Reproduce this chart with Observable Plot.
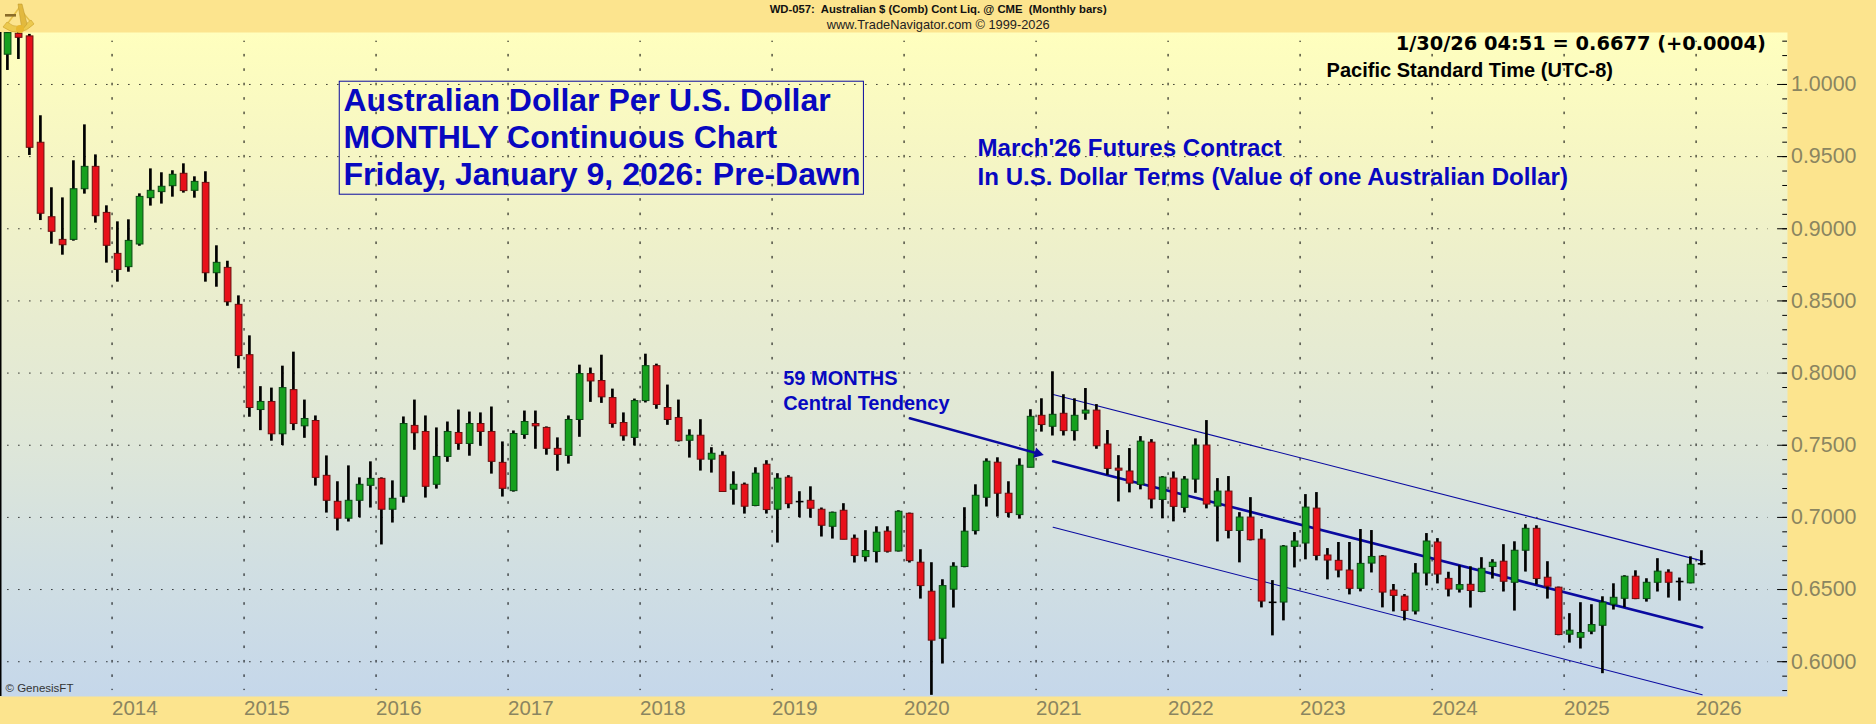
<!DOCTYPE html>
<html>
<head>
<meta charset="utf-8">
<script src="https://cdn.jsdelivr.net/npm/d3@7"></script>
<script src="https://cdn.jsdelivr.net/npm/@observablehq/plot@0.6"></script>
<style>html,body{margin:0;padding:0;background:#fce48e}svg{display:block}</style>
</head>
<body>
<script>
// Monthly bars, Mar 2013 (index 0) to Jan 2026 (index 154)
const opens = [1.0206,1.0351,1.0333,.9596,.9080,.8923,.8923,.9274,.9429,.9110,.8826,.8734,.8891,.9212,.9254,.9295,.9381,.9263,.9318,.8692,.8729,.8473,.8124,.7744,.7800,.7576,.7882,.7631,.7668,.7288,.7108,.6991,.7115,.7219,.7267,.7053,.7143,.7634,.7592,.7226,.7419,.7585,.7509,.7647,.7592,.7378,.7182,.7571,.7647,.7620,.7475,.7426,.7675,.7993,.7945,.7827,.7654,.7551,.7806,.8048,.7758,.7689,.7531,.7566,.7400,.7427,.7192,.7226,.7079,.7365,.7053,.7275,.7108,.7115,.7053,.6935,.7046,.6852,.6725,.6760,.6901,.6764,.7025,.6686,.6485,.6159,.6499,.6656,.6905,.7136,.7379,.7164,.7016,.7344,.7704,.7628,.7718,.7598,.7719,.7740,.7505,.7338,.7318,.7225,.7518,.7121,.7269,.7066,.7262,.7498,.7075,.7179,.6906,.6999,.6846,.6410,.6410,.6796,.6819,.7061,.6736,.6699,.6632,.6505,.6680,.6729,.6493,.6451,.6348,.6611,.6826,.6574,.6499,.6533,.6483,.6656,.6693,.6547,.6769,.6921,.6582,.6513,.6187,.6166,.6208,.6249,.6395,.6436,.6589,.6434,.6547,.6617,.6554,.6543,.6673];
const closes = [1.0356,1.0323,.9561,.9104,.8979,.8886,.9274,.9429,.9087,.8882,.8715,.8916,.9221,.9263,.9291,.9374,.9261,.9325,.8692,.8764,.8491,.8118,.7758,.7800,.7576,.7896,.7647,.7682,.7274,.7115,.6991,.7115,.7226,.7267,.7053,.7129,.7647,.7583,.7212,.7419,.7592,.7509,.7647,.7592,.7385,.7198,.7578,.7661,.7631,.7475,.7433,.7675,.7993,.7942,.7832,.7647,.7562,.7806,.8048,.7779,.7675,.7528,.7566,.7400,.7441,.7176,.7226,.7074,.7303,.7051,.7268,.7092,.7104,.7060,.6942,.7032,.6845,.6732,.6767,.6894,.6762,.7039,.6697,.6524,.6146,.6524,.6658,.6901,.7150,.7386,.7164,.7030,.7358,.7697,.7640,.7711,.7598,.7704,.7740,.7493,.7336,.7324,.7234,.7525,.7124,.7276,.7073,.7262,.7498,.7089,.7179,.6906,.6999,.6842,.6417,.6406,.6798,.6833,.7068,.6733,.6701,.6632,.6505,.6678,.6726,.6479,.6456,.6352,.6611,.6833,.6604,.6500,.6531,.6490,.6644,.6686,.6554,.6769,.6921,.6573,.6520,.6185,.6215,.6199,.6254,.6409,.6443,.6589,.6434,.6547,.6624,.6547,.6550,.6672,.6677];
const highs = [1.0360,1.0360,1.0347,.9783,.9284,.9214,.9471,.9720,.9512,.9159,.9048,.9062,.9242,.9415,.9388,.9402,.9450,.9360,.9395,.8882,.8775,.8535,.8258,.7906,.7896,.8048,.8145,.7813,.7703,.7426,.7247,.7357,.7274,.7385,.7274,.7253,.7696,.7813,.7703,.7620,.7661,.7744,.7730,.7724,.7765,.7523,.7599,.7737,.7737,.7627,.7551,.7703,.8055,.8035,.8124,.7889,.7724,.7820,.8131,.8062,.7917,.7813,.7607,.7677,.7483,.7455,.7316,.7238,.7344,.7393,.7303,.7289,.7178,.7212,.7065,.7037,.7095,.6878,.6908,.6935,.6935,.7046,.7030,.6776,.6686,.6568,.6686,.7067,.7226,.7406,.7413,.7247,.7406,.7746,.7822,.8009,.7850,.7822,.7893,.7782,.7602,.7428,.7477,.7560,.7539,.7283,.7315,.7283,.7544,.7671,.7269,.7283,.7033,.7137,.6916,.6562,.6805,.6895,.7158,.7172,.6784,.6826,.6826,.6916,.6909,.6736,.6535,.6465,.6680,.6888,.6853,.6620,.6665,.6658,.6721,.6707,.6811,.6831,.6949,.6942,.6693,.6517,.6333,.6409,.6395,.6450,.6540,.6596,.6630,.6575,.6714,.6637,.6580,.6727,.6769];
const lows = [1.0097,1.0173,.9508,.9057,.8893,.8817,.8914,.9240,.9039,.8762,.8630,.8699,.8879,.9157,.9171,.9219,.9247,.9212,.8630,.8595,.8463,.8030,.7694,.7601,.7528,.7498,.7601,.7548,.7217,.7030,.6906,.6968,.6998,.7065,.6809,.6961,.7099,.7465,.7134,.7196,.7382,.7465,.7424,.7493,.7300,.7141,.7175,.7541,.7472,.7431,.7320,.7369,.7555,.7797,.7790,.7618,.7528,.7495,.7793,.7749,.7638,.7522,.7411,.7321,.7307,.7176,.7085,.7023,.7074,.7023,.6822,.7060,.6998,.6995,.6864,.6850,.6845,.6684,.6691,.6684,.6753,.6760,.6684,.6434,.5767,.5984,.6372,.6651,.6878,.7072,.7002,.6998,.6988,.7344,.7591,.7564,.7564,.7529,.7673,.7472,.7292,.7107,.7170,.7191,.7059,.6990,.6969,.7031,.7167,.7059,.6830,.6851,.6685,.6837,.6373,.6179,.6283,.6650,.6706,.6699,.6567,.6581,.6463,.6484,.6615,.6373,.6345,.6283,.6324,.6525,.6539,.6449,.6476,.6372,.6478,.6573,.6483,.6351,.6621,.6533,.6434,.6180,.6129,.6088,.6187,.5917,.6358,.6374,.6430,.6413,.6483,.6441,.6420,.6540,.6665];

const years = [2014,2015,2016,2017,2018,2019,2020,2021,2022,2023,2024,2025,2026];
const yMajor = [0.60,0.65,0.70,0.75,0.80,0.85,0.90,0.95,1.00];
const yMinor = d3.range(58,104).map(v => v/100);

// 59-month regression channel: [start index, start price, end index, end price]
const channelMid = [95,0.7389,154,0.6237];
const channelUp  = [95,0.7852,154,0.6699];
const channelLow = [95,0.6932,154,0.5771];
const arrow59 = [81.97,0.7687,93.6,0.7443];

const titleLines = ["Australian Dollar Per U.S. Dollar","MONTHLY Continuous Chart","Friday, January 9, 2026: Pre-Dawn"];
const titleY = [0.98857,0.96292,0.93721];
const contractLines = ["March'26 Futures Contract","In U.S. Dollar Terms (Value of one Australian Dollar)"];
const contractY = [0.95544,0.93555];
const centralLines = ["59 MONTHS","Central Tendency"];
const centralY = [0.79605,0.77914];

const bars = opens.map((o,i)=>({i,o,c:closes[i],h:highs[i],l:lows[i]}));
const isDoji = d => Math.abs(d.o-d.c) < 0.0006;
const xMin = -0.691, xMax = 161.76;
const yearTick = y => (y-2013)*12-2-0.55;
const blue = "#0808c0", navy = "#0a0aa0", grey = "#8a8560", font = "Liberation Sans";

const defs = () => {
  const g = d3.create("svg:defs");
  const lg = g.append("linearGradient").attr("id","bgGrad").attr("x1",0).attr("y1",0).attr("x2",0).attr("y2",1);
  [[0,"#ffffbe"],[0.18,"#f6f6c4"],[0.43,"#e8ecd0"],[0.61,"#dfe7d8"],[0.8,"#d1dfe2"],[1,"#c5d7ea"]]
    .forEach(([o,c]) => lg.append("stop").attr("offset",o).attr("stop-color",c));
  return g.node();
};
// small sextant emblem, top left corner
const logo = () => {
  const g = d3.create("svg:g");
  g.html(`<path d="M8 23 L19 8 L30 21" fill="none" stroke="#e6c24a" stroke-width="1.6"/>
    <path d="M3 27 Q19 39 34 24 L31 20 Q19 32 7 22 Z" fill="#ecc94e" stroke="#c9a02c" stroke-width=".6"/>
    <path d="M18 4 L22 4 L27 24 L22 30 Z" fill="#e2b93e" stroke="#b8922a" stroke-width=".5"/>
    <circle cx="20" cy="29" r="4" fill="#e8b830"/>
    <rect x="5" y="14" width="11" height="2.6" fill="#8a6c28"/>`);
  return g.node();
};
const seg = (a,o) => Plot.line([[a[0],a[1]],[a[2],a[3]]],o);

const chart = Plot.plot({
  width:1876, height:724,
  marginLeft:0, marginRight:89, marginTop:32, marginBottom:28,
  style:{background:"#fce48e", fontFamily:font, overflow:"visible"},
  x:{type:"linear", domain:[xMin,xMax]},
  y:{type:"linear", domain:[0.5759,1.036]},
  marks:[
    defs,
    Plot.frame({fill:"url(#bgGrad)", stroke:"none"}),
    Plot.ruleX([xMin],{stroke:"#000",strokeWidth:2}),
    // grid
    Plot.ruleY(yMajor,{x1:-0.03,x2:160,stroke:"#000",strokeWidth:1,strokeDasharray:"1.2,9.8"}),
    Plot.ruleX(years,{x:yearTick,y1:0.58,y2:1.03,stroke:"#000",strokeWidth:1,strokeDasharray:"2.6,11.83",strokeDashoffset:1.3}),
    // price ticks, inward
    Plot.ruleY(yMinor,{x1:xMax-0.43,x2:xMax,stroke:"#000",strokeWidth:1}),
    Plot.ruleY(yMajor,{x1:xMax-0.9,x2:xMax,stroke:"#000",strokeWidth:1}),
    // channel
    seg(channelUp,{stroke:navy,strokeWidth:1.1}),
    seg(channelLow,{stroke:navy,strokeWidth:1.1}),
    seg(channelMid,{stroke:navy,strokeWidth:2.6}),
    // candles
    Plot.ruleX(bars,{x:"i",y1:"l",y2:"h",stroke:"#000",strokeWidth:2.7,dx:-0.7}),
    Plot.rect(bars,{x1:d=>d.i-0.305,x2:d=>d.i+0.305,y1:"o",y2:"c",
      fill:d=>isDoji(d)?"#000":(d.c>d.o?"#16a01e":"#e8101a"),
      stroke:d=>isDoji(d)?"#000":(d.c>d.o?"#0a4a14":"#6a1010"),strokeWidth:1}),
    seg(arrow59,{stroke:navy,strokeWidth:2.4}),
    Plot.dot([arrow59],{x:d=>d[2],y:d=>d[3],symbol:"triangle",rotate:105,r:4,fill:navy,stroke:"none"}),
    // axes
    Plot.axisY(yMajor,{anchor:"right",tickSize:0,tickPadding:3.5,tickFormat:d3.format(".4f"),fontSize:21.4,color:grey,label:null}),
    Plot.axisX(years.map(yearTick),{anchor:"bottom",tickSize:0,tickPadding:4,textAnchor:"start",fontSize:20.5,color:grey,label:null,
      tickFormat:d=>String(Math.round((d+2.55)/12+2013))}),
    // annotations
    Plot.rect([0],{x1:30.15,x2:77.8,y1:1.0019,y2:0.9236,fill:"none",stroke:navy,strokeWidth:1}),
    Plot.text(titleLines,{x:30.49,y:(d,i)=>titleY[i],text:d=>d,textAnchor:"start",fontSize:32,fontWeight:"bold",fill:blue}),
    Plot.text(contractLines,{x:88.13,y:(d,i)=>contractY[i],text:d=>d,textAnchor:"start",fontSize:24.1,fontWeight:"bold",fill:blue}),
    Plot.text(centralLines,{x:70.46,y:(d,i)=>centralY[i],text:d=>d,textAnchor:"start",fontSize:20,fontWeight:"bold",fill:blue}),
    Plot.text(["1/30/26 04:51 = 0.6677 (+0.0004)"],{x:159.8,y:1.0284,text:d=>d,textAnchor:"end",fontSize:19.4,fontWeight:"bold",fill:"#000",fontFamily:"DejaVu Sans"}),
    Plot.text(["Pacific Standard Time (UTC-8)"],{x:119.86,y:1.0093,text:d=>d,textAnchor:"start",fontSize:20,fontWeight:"bold",fill:"#000"}),
    Plot.text(["\u00a9 GenesisFT"],{x:-0.236,y:0.5814,text:d=>d,textAnchor:"start",fontSize:11.5,fill:"#333"}),
    Plot.text(["WD-057:  Australian $ (Comb) Cont Liq. @ CME  (Monthly bars)"],{x:84.55,y:1.0518,text:d=>d,fontSize:11.3,fontWeight:"bold",fill:"#111"}),
    Plot.text(["www.TradeNavigator.com \u00a9 1999-2026"],{x:84.55,y:1.0414,text:d=>d,fontSize:12.8,fill:"#222"}),
    logo
  ]
});
document.body.appendChild(chart);
</script>
</body>
</html>
